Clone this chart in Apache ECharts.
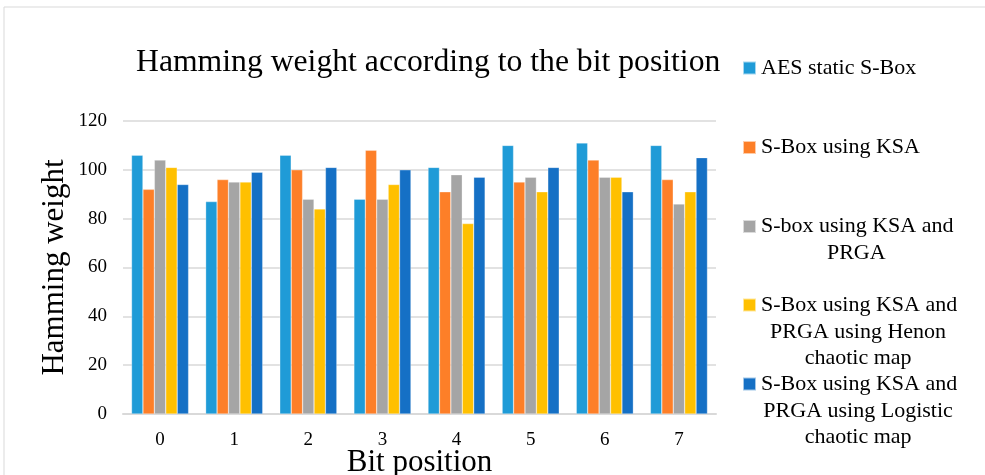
<!DOCTYPE html>
<html>
<head>
<meta charset="utf-8">
<script src="https://cdn.jsdelivr.net/npm/echarts@6/dist/echarts.min.js"></script>
<style>
html,body{margin:0;padding:0;background:#fff;}
#chart{width:985px;height:475px;}
</style>
</head>
<body>
<div id="chart"></div>
<script>
var categories = ['0', '1', '2', '3', '4', '5', '6', '7'];
var seriesNames = [
  'AES static S-Box',
  'S-Box using KSA',
  'S-box using KSA and PRGA',
  'S-Box using KSA and PRGA using Henon chaotic map',
  'S-Box using KSA and PRGA using Logistic chaotic map'
];
var legendLines = [
  ['AES static S-Box'],
  ['S-Box using KSA'],
  ['S-box using KSA and', 'PRGA'],
  ['S-Box using KSA and', 'PRGA using Henon', 'chaotic map'],
  ['S-Box using KSA and', 'PRGA using Logistic', 'chaotic map']
];
var aesStatic = [106, 87, 106, 88, 101, 110, 111, 110];
var ksa = [92, 96, 100, 108, 91, 95, 104, 96];
var ksaPrga = [104, 95, 88, 88, 98, 97, 97, 86];
var henon = [101, 95, 84, 94, 78, 91, 97, 91];
var logistic = [94, 99, 101, 100, 97, 101, 91, 105];
var yTicks = [0, 20, 40, 60, 80, 100, 120];

var allData = [aesStatic, ksa, ksaPrga, henon, logistic];
var colors = ['#1f9bd7', '#fd7f28', '#a5a5a5', '#ffc000', '#1570c5'];
var serif = 'Liberation Serif';
var legendIconY = [68, 147.5, 226.5, 305, 384];
var LH = 26.5;
var LEG_LEFT = 737;
var LEG_FS = 22;
var textStartX = LEG_LEFT + 5 + 12 + 5;

var measureCtx = document.createElement('canvas').getContext('2d');
measureCtx.font = LEG_FS + 'px "' + serif + '"';

var legends = [];
var legendGraphics = [];
seriesNames.forEach(function (name, i) {
  var lines = legendLines[i];
  legends.push({
    show: true,
    left: LEG_LEFT,
    top: legendIconY[i] - 13 - 5,
    orient: 'vertical',
    itemWidth: 13,
    itemHeight: 13,
    itemGap: 0,
    icon: 'rect',
    data: [name],
    selectedMode: false,
    formatter: function () { return lines[0]; },
    textStyle: { fontFamily: serif, fontSize: LEG_FS, lineHeight: 26, color: '#000' }
  });
  var firstW = measureCtx.measureText(lines[0]).width;
  var cx = textStartX + 1 + firstW / 2;
  for (var k = 1; k < lines.length; k++) {
    legendGraphics.push({
      type: 'text',
      x: cx,
      y: legendIconY[i] + 0.5 + k * LH,
      silent: true,
      style: {
        text: lines[k],
        fontFamily: serif,
        fontSize: LEG_FS,
        fill: '#000',
        align: 'center',
        verticalAlign: 'middle'
      }
    });
  }
});

var chart = echarts.init(document.getElementById('chart'), null, { renderer: 'canvas' });
chart.setOption({
  backgroundColor: '#fff',
  animation: false,
  textStyle: { fontFamily: serif },
  title: {
    text: 'Hamming weight according to the bit position',
    left: 131,
    top: 42,
    textStyle: { fontFamily: serif, fontSize: 31.7, fontWeight: 'normal', color: '#000' }
  },
  graphic: [{
    type: 'rect',
    shape: { x: 4, y: 7, width: 990, height: 480 },
    style: { fill: 'none', stroke: '#d9d9d9', lineWidth: 1 },
    silent: true
  }].concat(legendGraphics),
  legend: legends,
  grid: { left: 123, right: 269, top: 121, bottom: 61, outerBoundsMode: 'none', containLabel: false },
  xAxis: {
    type: 'category',
    data: categories,
    name: 'Bit position',
    nameLocation: 'middle',
    nameGap: 33,
    nameMoveOverlap: false,
    nameTextStyle: { fontFamily: serif, fontSize: 31, color: '#000' },
    axisLine: { lineStyle: { color: '#d9d9d9', width: 2 } },
    axisTick: { show: false },
    axisLabel: { fontFamily: serif, fontSize: 19, color: '#000', margin: 17 }
  },
  yAxis: {
    type: 'value',
    min: 0,
    max: 120,
    interval: 20,
    name: 'Hamming weight',
    nameLocation: 'middle',
    nameGap: 53,
    nameMoveOverlap: false,
    nameTextStyle: { fontFamily: serif, fontSize: 31, color: '#000' },
    axisLine: { show: false },
    axisTick: { show: false },
    splitLine: { lineStyle: { color: '#d9d9d9', width: 1.5 } },
    axisLabel: {
      fontFamily: serif, fontSize: 19, color: '#000', margin: 16,
      formatter: function (v) { return yTicks.indexOf(v) >= 0 ? String(v) : ''; }
    }
  },
  series: seriesNames.map(function (name, i) {
    return {
      name: name,
      type: 'bar',
      data: allData[i],
      barGap: '0%',
      barCategoryGap: '23%',
      itemStyle: { color: colors[i], borderColor: 'rgba(255,255,255,0.6)', borderWidth: 0.5 }
    };
  })
});
</script>
</body>
</html>
